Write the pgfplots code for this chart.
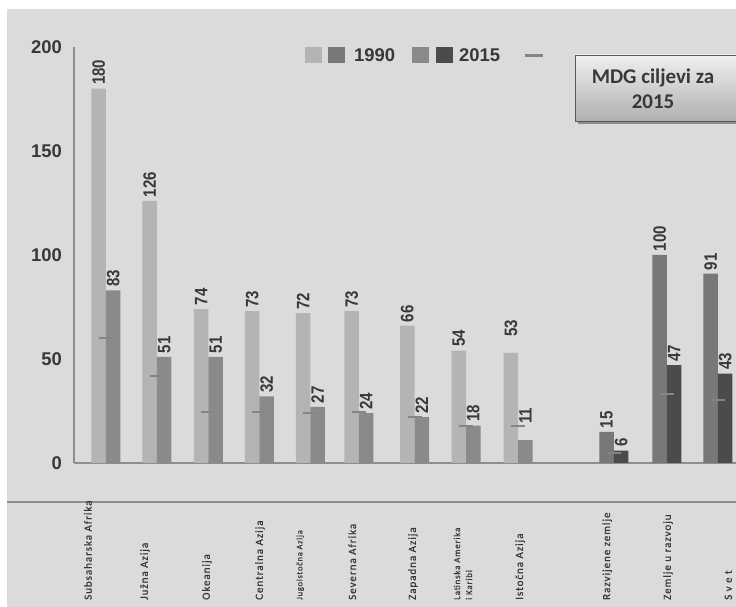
\documentclass[border=0pt]{standalone}
\usepackage{pgfplots}
\usepackage{pgfplotstable}
\pgfplotsset{compat=1.18}
\usepackage{fontspec}
\setmainfont{Liberation Sans}
\newfontfamily\valfont[FakeStretch=0.84]{Liberation Sans}
\newfontfamily\catfont[LetterSpace=9, FakeBold=0.6]{Carlito}
\newfontfamily\boxfont{Carlito}

\definecolor{bg}{HTML}{DBDBDB}
\definecolor{regA}{HTML}{B4B4B4}
\definecolor{regB}{HTML}{8A8A8A}
\definecolor{grpA}{HTML}{787878}
\definecolor{grpB}{HTML}{4B4B4B}
\definecolor{txt}{HTML}{383838}
\definecolor{target}{HTML}{858585}
\definecolor{axisgray}{HTML}{8E8E8E}
\definecolor{shadow}{HTML}{8C8C8C}

% regions: position, 1990, 2015, MDG target, label offset
\pgfplotstableread{
x     a    b   t     o
0.00  180  83  60.0  3.5
0.99  126  51  42.0  3.5
1.99  74   51  24.7  3.5
2.98  73   32  24.3  3.5
3.97  72   27  24.0  3.5
4.91  73   24  24.3  3.5
5.99  66   22  22.0  3.5
6.99  54   18  18.0  3.5
8.00  53   11  17.7  16
}\regions
% country groups
\pgfplotstableread{
x      a    b   t     o
9.86   15   6   5.0   3.5
10.89  100  47  33.3  3.5
11.88  91   43  30.3  3.5
}\groups

% value labels above the bars, shifted onto the bar they belong to
\pgfplotsset{
  vlabel/.style={
    nodes near coords,
    visualization depends on={\thisrow{o}\as\lbloff},
    every node near coord/.style={xshift=#1, rotate=90, anchor=west,
      inner ysep=0pt, inner xsep=\lbloff bp, text=txt,
      font=\valfont\bfseries\fontsize{18}{18}\selectfont}},
}

\begin{document}
\begin{tikzpicture}[x=1bp,y=1bp]
\useasboundingbox (0,0) rectangle (736,607);
\fill[white] (0,0) rectangle (736,607);
\fill[bg] (7,0) rectangle (736,598);
\draw[axisgray, line width=1.5bp] (7,105) -- (736,105);

% legend
\fill[regA] (305,544) rectangle (322,560);
\fill[grpA] (328,544) rectangle (345,560);
\node[anchor=west, inner sep=0pt, text=txt, font=\bfseries\fontsize{18.5}{20}\selectfont] at (354,552) {1990};
\fill[regB] (412,544) rectangle (429,560);
\fill[grpB] (436,544) rectangle (453,560);
\node[anchor=west, inner sep=0pt, text=txt, font=\bfseries\fontsize{18.5}{20}\selectfont] at (459,552) {2015};
\draw[target, line width=3bp] (525,551) -- (543,551);

% MDG box
\fill[shadow] (578,483) rectangle (745,549);
\shade[top color=gray!12, bottom color=gray!62] (575,486) rectangle (745,552);
\draw[gray!70!black, line width=0.8bp] (575,486) rectangle (745,552);
\node[align=center, text=txt, font=\boxfont\bfseries\fontsize{21}{25}\selectfont] at (653,518) {MDG ciljevi za\\2015};

\begin{axis}[
  at={(74bp,144bp)}, anchor=south west,
  scale only axis, width=662bp, height=416bp,
  xmin=-0.62, xmax=12.23, ymin=0, ymax=200,
  axis x line*=bottom, axis y line*=left,
  axis line style={draw=axisgray, line width=2bp, -},
  major tick length=0pt,
  /pgf/number format/assume math mode=true,
  ytick={0,50,100,150,200},
  yticklabel style={font=\bfseries\fontsize{18.5}{20}\selectfont, text=txt, inner sep=0pt},
  yticklabel shift=12bp,
  xtick={-0.35,0.757,1.96,2.99,3.77,4.78,5.96,6.93,8.04,9.73,10.91,12.08},
  xticklabels={Subsaharska Afrika, Južna Azija, Okeanija, Centralna Azija,
    {\fontsize{8.5}{9}\selectfont Jugoistočna Azija}, Severna Afrika, Zapadna Azija,
    {\fontsize{9}{10}\selectfont Latinska Amerika\\\fontsize{9}{10}\selectfont i Karibi}, Istočna Azija,
    Razvijene zemlje, Zemlje u razvoju, S v e t},
  xticklabel style={font=\catfont\fontsize{11}{12}\selectfont, text=txt, rotate=90, anchor=west, align=left, inner sep=0pt},
  xticklabel shift=137bp,
]
\addplot[ybar, bar width=14.5bp, bar shift=-7.25bp, fill=regA, draw=none, vlabel=-7.25bp]
  table[x=x, y=a] {\regions};
\addplot[ybar, bar width=14.5bp, bar shift=7.25bp, fill=regB, draw=none, vlabel=7.25bp]
  table[x=x, y=b] {\regions};
\addplot[ybar, bar width=14.5bp, bar shift=-7.25bp, fill=grpA, draw=none, vlabel=-7.25bp]
  table[x=x, y=a] {\groups};
\addplot[ybar, bar width=14.5bp, bar shift=7.25bp, fill=grpB, draw=none, vlabel=7.25bp]
  table[x=x, y=b] {\groups};
% MDG targets
\addplot[only marks, mark=-, mark size=7bp, mark options={draw=target, line width=2bp}]
  table[x=x, y=t] {\regions};
\addplot[only marks, mark=-, mark size=7bp, mark options={draw=target, line width=2bp}]
  table[x=x, y=t] {\groups};
\end{axis}
\end{tikzpicture}
\end{document}
